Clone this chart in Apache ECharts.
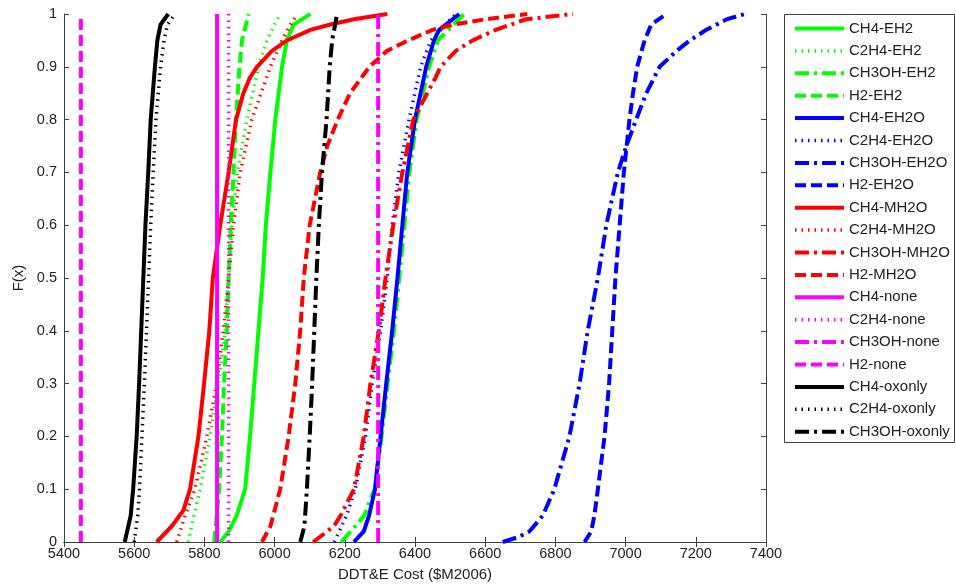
<!DOCTYPE html>
<html>
<head>
<meta charset="utf-8">
<script src="https://cdn.jsdelivr.net/npm/echarts@6/dist/echarts.min.js"></script>
<style>html,body{margin:0;padding:0;background:#fff;}#c{width:956px;height:587px;}</style>
</head>
<body>
<div id="c"></div>
<script>
// ---- axis ticks ----
const xTicks = [5400, 5600, 5800, 6000, 6200, 6400, 6600, 6800, 7000, 7200, 7400];
const yTicks = [0, 0.1, 0.2, 0.3, 0.4, 0.5, 0.6, 0.7, 0.8, 0.9, 1];

// ---- EH2 (green) ----
const ch4EH2_x   = [5845,5869,5892,5916,5930,5942,5954,5966,5975,5988,6002,6021,6035,6054,6102];
const ch4EH2_F   = [0,0.02,0.05,0.1,0.2,0.3,0.4,0.5,0.6,0.7,0.8,0.9,0.95,0.98,1];
const c2h4EH2_x  = [5754,5770,5788,5816,5840,5859,5869,5878,5894,5921,5954,5978,6000,6016];
const c2h4EH2_F  = [0,0.05,0.1,0.2,0.3,0.4,0.5,0.6,0.7,0.8,0.9,0.95,0.98,1];
const ch3ohEH2_x = [6190,6230,6255,6285,6305,6322,6340,6355,6370,6384,6405,6440,6465,6540];
const ch3ohEH2_F = [0,0.03,0.05,0.1,0.2,0.3,0.4,0.5,0.6,0.7,0.8,0.9,0.95,1];
const h2EH2_x    = [5828,5842,5850,5856,5864,5869,5875,5883,5890,5900,5907,5926];
const h2EH2_F    = [0,0.1,0.2,0.3,0.4,0.5,0.6,0.7,0.8,0.9,0.95,1];

// ---- EH2O (blue) ----
const ch4EH2O_x   = [6226,6254,6269,6286,6302,6318,6335,6350,6364,6378,6400,6416,6432,6454,6469,6526];
const ch4EH2O_F   = [0,0.02,0.05,0.1,0.2,0.3,0.4,0.5,0.6,0.7,0.8,0.85,0.9,0.95,0.97,1];
const c2h4EH2O_x  = [6170,6205,6230,6259,6278,6302,6321,6335,6354,6383,6416,6445,6516];
const c2h4EH2O_F  = [0,0.05,0.1,0.2,0.3,0.4,0.5,0.6,0.7,0.8,0.9,0.95,1];
const ch3ohEH2O_x = [6650,6697,6726,6764,6797,6840,6869,6892,6921,6945,6978,7002,7030,7059,7097,7145,7183,7230,7288,7340];
const ch3ohEH2O_F = [0,0.01,0.02,0.05,0.1,0.2,0.3,0.4,0.5,0.6,0.7,0.75,0.8,0.85,0.9,0.93,0.95,0.97,0.99,1];
const h2EH2O_x    = [6883,6902,6911,6921,6940,6953,6962,6971,6983,6995,7011,7021,7033,7054,7073,7116];
const h2EH2O_F    = [0,0.02,0.05,0.1,0.2,0.3,0.4,0.5,0.6,0.7,0.8,0.85,0.9,0.95,0.98,1];

// ---- MH2O (red) ----
const ch4MH2O_x   = [5664,5707,5740,5759,5783,5799,5814,5824,5845,5869,5890,5911,5930,5950,5992,6035,6102,6159,6226,6321];
const ch4MH2O_F   = [0,0.03,0.06,0.1,0.2,0.3,0.4,0.5,0.6,0.7,0.8,0.85,0.88,0.9,0.93,0.95,0.97,0.98,0.99,1];
const c2h4MH2O_x  = [5721,5745,5773,5807,5835,5854,5869,5883,5902,5935,5988,6021,6045,6065];
const c2h4MH2O_F  = [0,0.05,0.1,0.2,0.3,0.4,0.5,0.6,0.7,0.8,0.9,0.95,0.98,1];
const ch3ohMH2O_x = [6110,6169,6188,6226,6254,6273,6297,6316,6338,6364,6395,6435,6459,6473,6516,6564,6630,6716,6850];
const ch3ohMH2O_F = [0,0.03,0.05,0.1,0.2,0.3,0.4,0.5,0.6,0.7,0.8,0.85,0.88,0.9,0.93,0.95,0.97,0.99,1];
const h2MH2O_x    = [5964,5988,6016,6040,6059,6073,6083,6100,6130,6150,6180,6215,6270,6320,6380,6450,6510,6600,6720];
const h2MH2O_F    = [0,0.03,0.1,0.2,0.3,0.4,0.5,0.6,0.7,0.75,0.8,0.85,0.9,0.93,0.95,0.97,0.98,0.99,1];

// ---- none (magenta, constant cost) ----
const ch4None_x   = [5836,5836];
const c2h4None_x  = [5869,5869];
const ch3ohNone_x = [6295,6295];
const h2None_x    = [5448,5448];
const none_F      = [0,1];

// ---- oxonly (black) ----
const ch4Ox_x   = [5573,5590,5597,5607,5614,5620,5626,5632,5640,5647,5659,5666,5675,5697];
const c2h4Ox_x  = [5600,5610,5615,5622,5629,5635,5641,5647,5654,5662,5675,5685,5695,5716];
const ox_F      = [0,0.05,0.1,0.2,0.3,0.4,0.5,0.6,0.7,0.8,0.9,0.95,0.98,1];
const ch3ohOx_x = [6073,6085,6092,6100,6107,6113,6119,6126,6135,6148,6157,6164,6178];
const ch3ohOx_F = [0,0.03,0.1,0.2,0.3,0.4,0.5,0.6,0.7,0.8,0.9,0.95,1];

const names = ['CH4-EH2','C2H4-EH2','CH3OH-EH2','H2-EH2','CH4-EH2O','C2H4-EH2O','CH3OH-EH2O','H2-EH2O',
  'CH4-MH2O','C2H4-MH2O','CH3OH-MH2O','H2-MH2O','CH4-none','C2H4-none','CH3OH-none','H2-none',
  'CH4-oxonly','C2H4-oxonly','CH3OH-oxonly'];

const GREEN='#00ff00', BLUE='#0000ff', RED='#ff0000', MAG='#ff00ff', BLACK='#000000';
const STY = {
  solid:  {type:'solid', width:4},
  dotted: {type:[1.5,5], width:3.5},
  dashdot:{type:[14,5,3,5], width:4},
  dashed: {type:[11,5], width:4}
};
const defs = [
  [ch4EH2_x, ch4EH2_F, GREEN, 'solid'],
  [c2h4EH2_x, c2h4EH2_F, GREEN, 'dotted'],
  [ch3ohEH2_x, ch3ohEH2_F, GREEN, 'dashdot'],
  [h2EH2_x, h2EH2_F, GREEN, 'dashed'],
  [ch4EH2O_x, ch4EH2O_F, BLUE, 'solid'],
  [c2h4EH2O_x, c2h4EH2O_F, BLUE, 'dotted'],
  [ch3ohEH2O_x, ch3ohEH2O_F, BLUE, 'dashdot'],
  [h2EH2O_x, h2EH2O_F, BLUE, 'dashed'],
  [ch4MH2O_x, ch4MH2O_F, RED, 'solid'],
  [c2h4MH2O_x, c2h4MH2O_F, RED, 'dotted'],
  [ch3ohMH2O_x, ch3ohMH2O_F, RED, 'dashdot'],
  [h2MH2O_x, h2MH2O_F, RED, 'dashed'],
  [ch4None_x, none_F, MAG, 'solid'],
  [c2h4None_x, none_F, MAG, 'dotted'],
  [ch3ohNone_x, none_F, MAG, 'dashdot'],
  [h2None_x, none_F, MAG, 'dashed'],
  [ch4Ox_x, ox_F, BLACK, 'solid'],
  [c2h4Ox_x, ox_F, BLACK, 'dotted'],
  [ch3ohOx_x, ch3ohOx_F, BLACK, 'dashdot']
];

const series = defs.map((d, i) => ({
  name: names[i],
  type: 'line',
  symbol: 'none',
  showSymbol: false,
  xAxisIndex: 0, yAxisIndex: 0,
  data: d[0].map((x, k) => [x, d[1][k]]),
  lineStyle: {color: d[2], width: STY[d[3]].width, type: STY[d[3]].type, cap: 'butt', join: 'miter'},
  itemStyle: {color: d[2]},
  emphasis: {disabled: true},
  clip: true
}));

const FONT = 'Liberation Sans, Arial, sans-serif';
const TXT = '#222';
const AX = '#404040';

const chart = echarts.init(document.getElementById('c'), null, {renderer: 'canvas'});
chart.setOption({
  animation: false,
  backgroundColor: '#fff',
  grid: {left: 64, top: 14, width: 702, height: 528.5, containLabel: false},
  xAxis: [
    {type: 'value', min: xTicks[0], max: xTicks[xTicks.length-1], interval: 200, position: 'bottom',
     name: 'DDT&E Cost ($M2006)', nameLocation: 'middle', nameGap: 25,
     nameTextStyle: {fontFamily: FONT, fontSize: 15, color: TXT},
     axisLine: {show: true, lineStyle: {color: AX, width: 1}},
     axisTick: {show: true, inside: true, length: 5, lineStyle: {color: AX}},
     axisLabel: {fontFamily: FONT, fontSize: 14.5, color: TXT, margin: 4, showMinLabel: true, showMaxLabel: true,
       formatter: v => String(v)},
     splitLine: {show: false}},
    {type: 'value', min: xTicks[0], max: xTicks[xTicks.length-1], interval: 200, position: 'top',
     axisLine: {show: true, lineStyle: {color: AX, width: 1}},
     axisTick: {show: true, inside: true, length: 5, lineStyle: {color: AX}},
     axisLabel: {show: false}, splitLine: {show: false}}
  ],
  yAxis: [
    {type: 'value', min: yTicks[0], max: yTicks[yTicks.length-1], interval: 0.1, position: 'left',
     name: 'F(x)', nameLocation: 'middle', nameGap: 37, nameRotate: 90,
     nameTextStyle: {fontFamily: FONT, fontSize: 15, color: TXT},
     axisLine: {show: true, lineStyle: {color: AX, width: 1}},
     axisTick: {show: true, inside: true, length: 5, lineStyle: {color: AX}},
     axisLabel: {fontFamily: FONT, fontSize: 14.5, color: TXT, margin: 7,
       formatter: v => String(Math.round(v * 10) / 10)},
     splitLine: {show: false}},
    {type: 'value', min: yTicks[0], max: yTicks[yTicks.length-1], interval: 0.1, position: 'right',
     axisLine: {show: true, lineStyle: {color: AX, width: 1}},
     axisTick: {show: true, inside: true, length: 5, lineStyle: {color: AX}},
     axisLabel: {show: false}, splitLine: {show: false}}
  ],
  legend: {
    data: names,
    orient: 'vertical',
    left: 793, top: 21,
    padding: 0,
    itemWidth: 49, itemHeight: 14, itemGap: 7.4,
    itemStyle: {opacity: 0, borderWidth: 0},
    lineStyle: {width: 'inherit', type: 'inherit', cap: 'butt', opacity: 1},
    textStyle: {fontFamily: FONT, fontSize: 15, color: TXT},
    selectedMode: false
  },
  graphic: [
    {type: 'rect', shape: {x: 784.5, y: 14.5, width: 170, height: 428}, z: -1,
     style: {fill: '#fff', stroke: AX, lineWidth: 1}}
  ],
  series: series
});
</script>
</body>
</html>
